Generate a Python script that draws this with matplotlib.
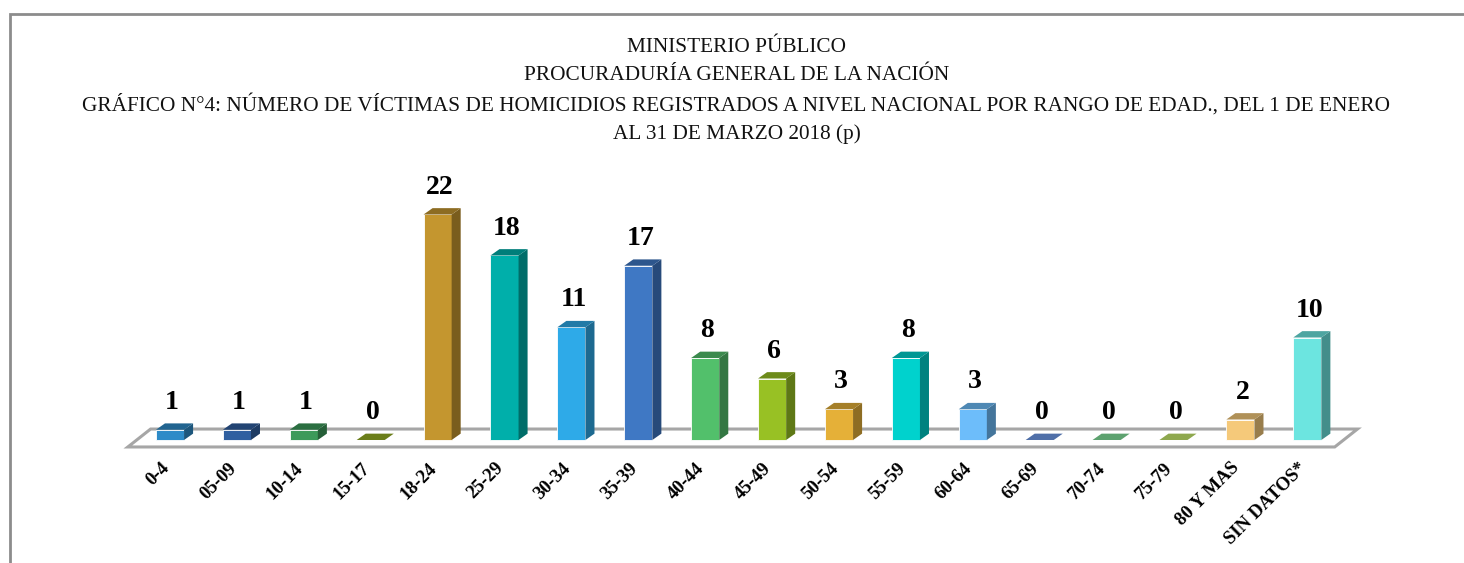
import matplotlib.pyplot as plt
from matplotlib.patches import Polygon, Rectangle
from matplotlib.colors import to_rgb

# ---------------- DATA ----------------
age_ranges = ['0-4', '05-09', '10-14', '15-17', '18-24', '25-29', '30-34', '35-39',
              '40-44', '45-49', '50-54', '55-59', '60-64', '65-69', '70-74', '75-79',
              '80 Y MAS', 'SIN DATOS*']
victims = [1, 1, 1, 0, 22, 18, 11, 17, 8, 6, 3, 8, 3, 0, 0, 0, 2, 10]
bar_colors = ['#2E8BC8', '#2F5FA0', '#3C9A5A', '#6B7E1A', '#C4962F', '#00AFAA',
              '#2EAAE8', '#3F78C4', '#52C06B', '#98C124', '#E5B038', '#00D2CD',
              '#6DBDFA', '#4F6FA8', '#5DA26F', '#8EA84E', '#F5C97A', '#6CE5E0']

title_lines = [
    'MINISTERIO PÚBLICO',
    'PROCURADURÍA GENERAL DE LA NACIÓN',
    'GRÁFICO N°4: NÚMERO DE VÍCTIMAS DE HOMICIDIOS REGISTRADOS A NIVEL NACIONAL POR RANGO DE EDAD., DEL 1 DE ENERO',
    'AL 31 DE MARZO 2018 (p)',
]

SERIF = ['Liberation Serif', 'DejaVu Serif']


def shade(color, k):
    r, g, b = to_rgb(color)
    return (r * k, g * k, b * k)


# ---------------- FIGURE ----------------
W, H = 1464, 563
fig = plt.figure(figsize=(W / 100, H / 100), dpi=100)

# outer chart border (left and top visible, rest clipped)
fig.patches.append(Rectangle((10 / W, -0.1), 1.2, (H - 14) / H + 0.1,
                             transform=fig.transFigure, fill=False,
                             edgecolor='#8C8C8C', linewidth=2))

for k, line in enumerate(title_lines):
    fig.text(0.503, 1 - (47 + k * 29) / H, line, ha='center', va='center',
             fontsize=15.3, family=SERIF, color='#111111')

# axes placed so that one category = 66.9 px and one unit = 10.25 px
ax = fig.add_axes([100 / W, (H - 470) / H, 1300 / W, 300 / H])
ax.set_xlim((100 - 170) / 66.9, (1400 - 170) / 66.9)
ax.set_ylim(-(470 - 440) / 10.25, (440 - 170) / 10.25)
ax.axis('off')

n = len(age_ranges)
bw = 0.42           # bar width in category units
ddx, ddy = 0.135, 0.62   # depth offset of bars
fdx, fdy = 0.34, 1.75    # depth of the floor

# floor
fl, fr, fy = -0.63, n - 0.59, -0.68
ax.add_patch(Polygon([(fl, fy), (fr, fy), (fr + fdx, fy + fdy), (fl + fdx, fy + fdy)],
                     closed=True, facecolor='white', edgecolor='#A6A6A6',
                     linewidth=2.2, zorder=1))

for i, (v, c) in enumerate(zip(victims, bar_colors)):
    x0, x1 = i - bw / 2, i + bw / 2
    if v > 0:
        ax.bar(i, v, width=bw, color=c, edgecolor='#FFFFFF', linewidth=0.6, zorder=3)
        ax.add_patch(Polygon([(x1, 0), (x1 + ddx, ddy), (x1 + ddx, v + ddy), (x1, v)],
                             closed=True, facecolor=shade(c, 0.62), edgecolor='none', zorder=3))
        ax.add_patch(Polygon([(x0, v), (x1, v), (x1 + ddx, v + ddy), (x0 + ddx, v + ddy)],
                             closed=True, facecolor=shade(c, 0.72), edgecolor='none', zorder=3))
    else:
        ax.add_patch(Polygon([(x0, 0), (x1, 0), (x1 + ddx, ddy), (x0 + ddx, ddy)],
                             closed=True, facecolor=c, edgecolor='none', zorder=3))
    ax.text(i + 0.03, v + 1.45, str(v), ha='center', va='bottom', fontsize=20,
            fontweight='bold', family=SERIF, color='black', zorder=4)
    ax.text(i - 0.14, -1.9, age_ranges[i], ha='right', va='top', rotation=45,
            rotation_mode='anchor', fontsize=13.5, fontweight='bold', family=SERIF,
            color='black')

plt.savefig('out.png', dpi=100)
plt.close()
